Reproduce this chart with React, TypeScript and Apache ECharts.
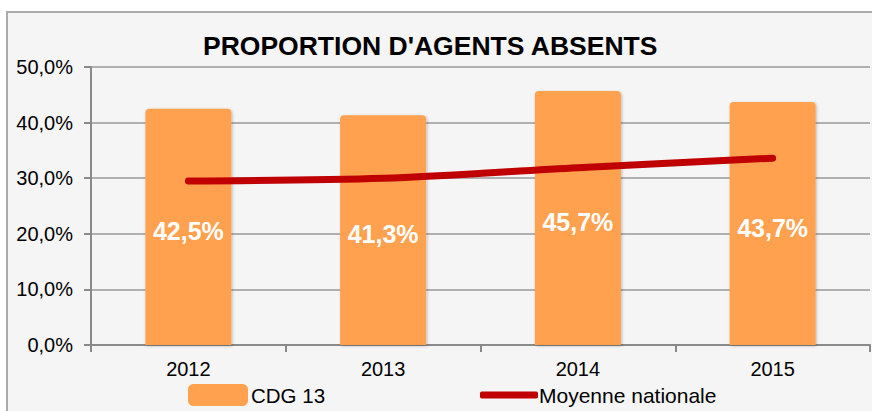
import React, { useEffect, useRef } from "react";
import * as echarts from "echarts";

const categories = ["2012", "2013", "2014", "2015"];
const cdg13 = [42.5, 41.3, 45.7, 43.7];
const moyenneNationale = [29.5, 30.0, 31.9, 33.6];
const yTicks = { min: 0, max: 50, interval: 10 };
const titleText = "PROPORTION D'AGENTS ABSENTS";
const seriesNames = ["CDG 13", "Moyenne nationale"];

const FONT = "'Liberation Sans', Arial, sans-serif";
const fmt = (v: number) => v.toFixed(1).replace(".", ",") + "%";

export default function App() {
  const ref = useRef<HTMLDivElement>(null);
  useEffect(() => {
    if (!ref.current) return;
    const chart = echarts.init(ref.current, undefined, { renderer: "svg" });
    chart.setOption({
      animation: false,
      backgroundColor: "#ffffff",
      textStyle: { fontFamily: FONT },
      graphic: [
        {
          type: "rect",
          z: -10,
          shape: { x: 7, y: 12, width: 900, height: 420 },
          style: { fill: "#f5f5f5", stroke: "#ababab", lineWidth: 2 },
        },
      ],
      title: {
        text: titleText,
        left: 203,
        top: 33,
        padding: 0,
        textStyle: { fontFamily: FONT, fontSize: 26.5, fontWeight: "bold", color: "#000", lineHeight: 26 },
      },
      legend: [
        {
          data: [seriesNames[0]],
          left: 188,
          top: 384,
          padding: 0,
          itemWidth: 60,
          itemHeight: 22,
          icon: "roundRect",
          itemGap: 0,
          textStyle: { fontFamily: FONT, fontSize: 20.5, color: "#000", lineHeight: 22, padding: [0, 0, 0, -2] },
        },
        {
          data: [seriesNames[1]],
          left: 480,
          top: 384,
          padding: 0,
          itemWidth: 58,
          itemHeight: 7,
          icon: "roundRect",
          itemGap: 0,
          textStyle: { fontFamily: FONT, fontSize: 21, color: "#000", lineHeight: 22, padding: [0, 0, 0, -4] },
        },
      ],
      grid: { left: 91, right: 2, top: 67, bottom: 66, containLabel: false },
      xAxis: {
        type: "category",
        data: categories,
        axisLine: { show: true, lineStyle: { color: "#8a8a8a", width: 2 } },
        axisTick: { show: true, length: 7, lineStyle: { color: "#8a8a8a", width: 2 } },
        axisLabel: { margin: 14, fontFamily: FONT, fontSize: 20, color: "#000" },
      },
      yAxis: {
        type: "value",
        min: yTicks.min,
        max: yTicks.max,
        interval: yTicks.interval,
        axisLine: { show: true, lineStyle: { color: "#8a8a8a", width: 2 } },
        axisTick: { show: true, length: 7, lineStyle: { color: "#8a8a8a", width: 2 } },
        axisLabel: { margin: 18, fontFamily: FONT, fontSize: 20, color: "#000", formatter: (v: number) => fmt(v) },
        splitLine: { show: true, lineStyle: { color: "#b0b0b0", width: 2 } },
      },
      series: [
        {
          name: seriesNames[0],
          type: "bar",
          data: cdg13,
          barWidth: 86,
          itemStyle: {
            color: "#ffa14f",
            borderRadius: [4, 4, 0, 0],
            shadowColor: "rgba(0,0,0,0.25)",
            shadowBlur: 3,
            shadowOffsetX: 1,
            shadowOffsetY: 1,
          },
          label: {
            show: true,
            position: "inside",
            offset: [0, 4],
            formatter: (p: any) => fmt(p.value),
            fontFamily: FONT,
            fontSize: 25,
            fontWeight: "bold",
            color: "#ffffff",
          },
          z: 2,
        },
        {
          name: seriesNames[1],
          type: "line",
          data: moyenneNationale,
          smooth: 0.3,
          symbol: "none",
          lineStyle: { color: "#c00000", width: 7, cap: "round" },
          itemStyle: { color: "#c00000" },
          z: 3,
        },
      ],
    });
    return () => chart.dispose();
  }, []);
  return (
    <div
      ref={ref}
      style={{ position: "fixed", left: 0, top: 0, width: 872, height: 411 }}
    />
  );
}
